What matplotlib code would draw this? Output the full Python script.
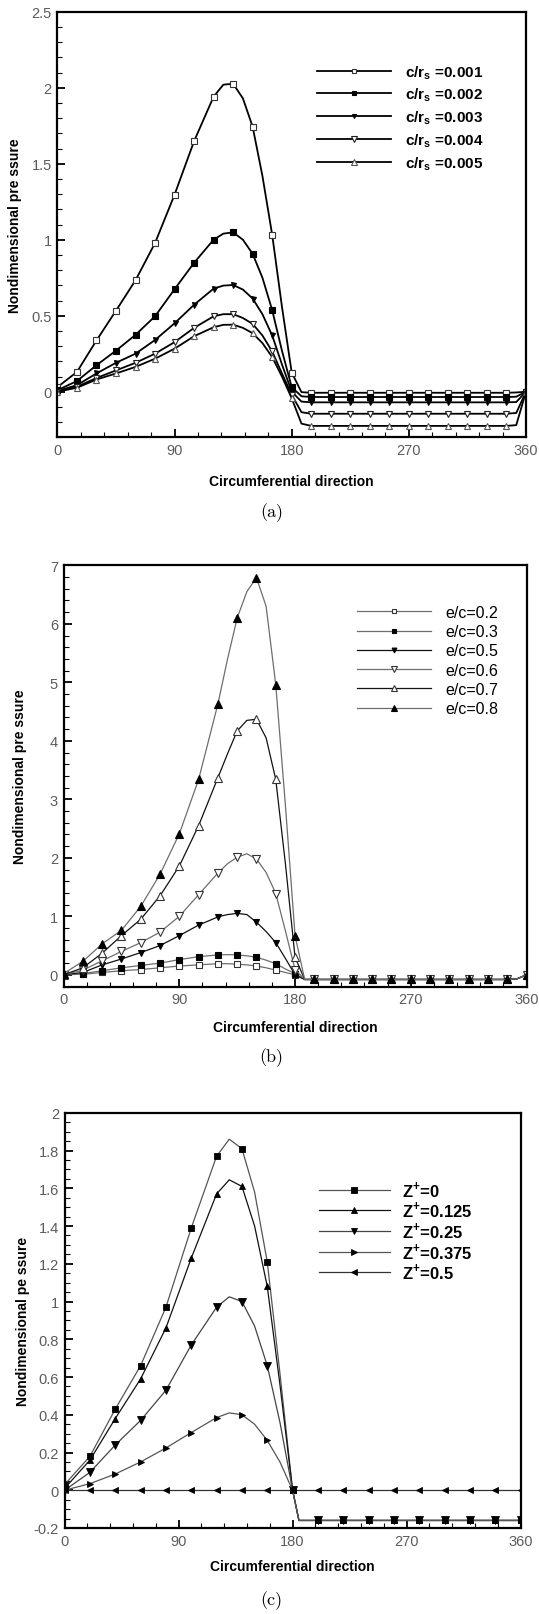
import matplotlib
matplotlib.use("Agg")
import matplotlib.pyplot as plt
from matplotlib.ticker import MultipleLocator, FuncFormatter

plt.rcParams['font.family'] = ['Liberation Sans', 'DejaVu Sans']
plt.rcParams['mathtext.fontset'] = 'custom'
plt.rcParams['mathtext.rm'] = 'Liberation Sans'
plt.rcParams['mathtext.bf'] = 'Liberation Sans:bold'

# ---- data ----
# panels (a) and (b): markers every 15 deg, a few extra points for the line
theta_ab = [0, 15, 30, 45, 60, 75, 90, 105, 120, 127.5, 135, 142.5, 150, 157.5,
            165, 172.5, 180, 187.5, 195, 210, 225, 240, 255, 270, 285, 300,
            315, 330, 345, 352.5, 360]
N_FLAT_AB = 11  # 195 .. 345

labels_a = [r'c/r$_\mathbf{s}$ =0.001', r'c/r$_\mathbf{s}$ =0.002',
            r'c/r$_\mathbf{s}$ =0.003', r'c/r$_\mathbf{s}$ =0.004',
            r'c/r$_\mathbf{s}$ =0.005']
p_c001 = [0.03, 0.13, 0.337, 0.533, 0.733, 0.978, 1.296, 1.648, 1.941, 2.02, 2.026,
          1.93, 1.743, 1.42, 1.033, 0.56, 0.126, -0.003] + [-0.007] * N_FLAT_AB + [-0.005, 0.0]
p_c002 = [0.01, 0.07, 0.174, 0.27, 0.374, 0.496, 0.674, 0.848, 1.0, 1.04, 1.048,
          1.0, 0.907, 0.75, 0.537, 0.27, 0.03, -0.03] + [-0.035] * N_FLAT_AB + [-0.033, 0.0]
p_c003 = [0.005, 0.043, 0.12, 0.19, 0.25, 0.34, 0.45, 0.572, 0.678, 0.698, 0.702,
          0.672, 0.613, 0.51, 0.37, 0.18, 0.0, -0.065] + [-0.07] * N_FLAT_AB + [-0.068, 0.0]
p_c004 = [0.0, 0.033, 0.09, 0.14, 0.19, 0.25, 0.326, 0.42, 0.496, 0.51, 0.51,
          0.485, 0.446, 0.37, 0.265, 0.12, -0.02, -0.135] + [-0.145] * N_FLAT_AB + [-0.14, 0.0]
p_c005 = [0.0, 0.026, 0.08, 0.12, 0.163, 0.217, 0.283, 0.365, 0.424, 0.44, 0.441,
          0.42, 0.385, 0.32, 0.228, 0.1, -0.043, -0.21] + [-0.225] * N_FLAT_AB + [-0.22, 0.0]

labels_b = ['e/c=0.2', 'e/c=0.3', 'e/c=0.5', 'e/c=0.6', 'e/c=0.7', 'e/c=0.8']
p_e02 = [0.0, 0.01, 0.04, 0.07, 0.09, 0.12, 0.15, 0.17, 0.19, 0.19, 0.18,
         0.17, 0.15, 0.12, 0.08, 0.04, 0.0, -0.08] + [-0.08] * N_FLAT_AB + [-0.07, 0.0]
p_e03 = [0.0, 0.02, 0.07, 0.12, 0.16, 0.2, 0.26, 0.31, 0.34, 0.345, 0.34,
         0.325, 0.3, 0.25, 0.19, 0.1, 0.02, -0.08] + [-0.08] * N_FLAT_AB + [-0.07, 0.0]
p_e05 = [0.0, 0.04, 0.17, 0.27, 0.38, 0.5, 0.67, 0.85, 0.99, 1.03, 1.05,
         1.03, 0.9, 0.74, 0.55, 0.28, 0.0, -0.08] + [-0.08] * N_FLAT_AB + [-0.07, 0.0]
p_e06 = [0.0, 0.08, 0.24, 0.4, 0.55, 0.73, 1.0, 1.37, 1.74, 1.9, 2.01,
         2.07, 1.98, 1.75, 1.39, 0.75, 0.09, -0.08] + [-0.08] * N_FLAT_AB + [-0.07, 0.0]
p_e07 = [0.0, 0.12, 0.37, 0.67, 0.95, 1.35, 1.86, 2.55, 3.37, 3.78, 4.17,
         4.35, 4.37, 4.05, 3.34, 1.9, 0.3, -0.08] + [-0.08] * N_FLAT_AB + [-0.07, 0.0]
p_e08 = [0.02, 0.23, 0.53, 0.76, 1.17, 1.72, 2.41, 3.34, 4.63, 5.4, 6.1,
         6.55, 6.79, 6.3, 4.96, 2.9, 0.67, -0.08] + [-0.08] * N_FLAT_AB + [-0.07, 0.0]

# panel (c): markers every 20 deg
theta_c = [0, 20, 40, 60, 80, 100, 120, 130, 140, 150, 160, 170, 180, 185,
           200, 220, 240, 260, 280, 300, 320, 340, 360]
N_FLAT_C = 9  # 200 .. 360
labels_c = [r'Z$^\mathbf{+}$=0', r'Z$^\mathbf{+}$=0.125', r'Z$^\mathbf{+}$=0.25',
            r'Z$^\mathbf{+}$=0.375', r'Z$^\mathbf{+}$=0.5']
p_z0 = [0.03, 0.18, 0.43, 0.66, 0.97, 1.39, 1.77, 1.86, 1.81, 1.58, 1.21, 0.62,
        0.0, -0.16] + [-0.16] * N_FLAT_C
p_z0125 = [0.01, 0.16, 0.38, 0.59, 0.86, 1.23, 1.57, 1.645, 1.61, 1.4, 1.08, 0.56,
           0.0, -0.16] + [-0.16] * N_FLAT_C
p_z025 = [0.0, 0.095, 0.24, 0.37, 0.53, 0.77, 0.97, 1.025, 1.0, 0.87, 0.66, 0.36,
          0.0, -0.16] + [-0.16] * N_FLAT_C
p_z0375 = [0.0, 0.035, 0.086, 0.15, 0.224, 0.306, 0.385, 0.41, 0.40, 0.35, 0.264, 0.15,
           0.0, -0.16] + [-0.16] * N_FLAT_C
p_z05 = [0.0] * len(theta_c)


def fmt(v, pos):
    v = round(v, 6) + 0.0
    return '%g' % v


def style_axes(ax, ylim, ymaj, ymin):
    ax.set_xlim(0, 360)
    ax.set_ylim(*ylim)
    ax.xaxis.set_major_locator(MultipleLocator(90))
    ax.xaxis.set_minor_locator(MultipleLocator(18))
    ax.yaxis.set_major_locator(MultipleLocator(ymaj))
    ax.yaxis.set_minor_locator(MultipleLocator(ymin))
    ax.yaxis.set_major_formatter(FuncFormatter(fmt))
    ax.tick_params(which='both', direction='in', top=False, right=False,
                   labelcolor='#5c5c5c', labelsize=10.5)
    ax.tick_params(axis='y', which='major', pad=4)
    ax.tick_params(axis='x', which='major', pad=4)
    ax.tick_params(which='major', length=6, width=1.3)
    ax.tick_params(which='minor', length=3.5, width=0.8)
    for sp in ax.spines.values():
        sp.set_linewidth(1.6)
    ax.set_xlabel('Circumferential direction', fontsize=10, fontweight='bold')


def marks(theta, step):
    return [t % step == 0 for t in theta]


W, H = 539, 1615
fig = plt.figure(figsize=(W / 100, H / 100), dpi=100)

# ---------------- (a) ----------------
ax = fig.add_axes([57.4 / W, 1 - 438.3 / H, 468.6 / W, 425.6 / H])
me = marks(theta_ab, 15)
series_a = [p_c001, p_c002, p_c003, p_c004, p_c005]
mk_a = [('s', 'white', '#333333', 4.3), ('s', 'black', 'black', 4.0),
        ('v', 'black', 'black', 3.6), ('v', 'white', '#222222', 4.6),
        ('^', 'white', '#555555', 4.6)]
for p, (m, fc, ec, ms), lab in zip(series_a, mk_a, labels_a):
    ax.plot(theta_ab, p, color='black', lw=1.3, marker=m, ms=ms, mfc=fc, mec=ec,
            mew=0.8, markevery=me, label=lab)
style_axes(ax, (-0.3, 2.5), 0.5, 0.1)
ax.set_ylabel('Nondimensional pre ssure', fontsize=10, fontweight='bold')
ax.yaxis.set_label_coords(-0.0745, 0.5)
ax.xaxis.set_label_coords(0.5, -0.086)
ax.legend(loc='center left', bbox_to_anchor=(0.553, 0.752), frameon=False,
          borderpad=0, borderaxespad=0, handlelength=4.9, handletextpad=0.87,
          labelspacing=0.33, markerscale=0.8,
          prop={'size': 11, 'weight': 'bold'})

# ---------------- (b) ----------------
ax = fig.add_axes([63.6 / W, 1 - 987.5 / H, 462.9 / W, 421.1 / H])
series_b = [p_e02, p_e03, p_e05, p_e06, p_e07, p_e08]
line_b = ['#6e6e6e', '#6e6e6e', '#111111', '#6e6e6e', '#111111', '#6e6e6e']
mk_b = [('s', 'white', '#333333', 4.6), ('s', 'black', 'black', 4.6),
        ('v', 'black', 'black', 4.6), ('v', 'white', '#333333', 5.2),
        ('^', 'white', '#333333', 6.2), ('^', 'black', 'black', 5.2)]
for p, lc, (m, fc, ec, ms), lab in zip(series_b, line_b, mk_b, labels_b):
    ax.plot(theta_ab, p, color=lc, lw=0.9, marker=m, ms=ms, mfc=fc, mec=ec,
            mew=0.8, markevery=me, label=lab)
style_axes(ax, (-0.2, 7), 1, 0.2)
ax.set_ylabel('Nondimensional pre ssure', fontsize=10, fontweight='bold')
ax.yaxis.set_label_coords(-0.078, 0.5)
ax.xaxis.set_label_coords(0.5, -0.080)
ax.legend(loc='center left', bbox_to_anchor=(0.634, 0.774), frameon=False,
          borderpad=0, borderaxespad=0, handlelength=4.6, handletextpad=0.9,
          labelspacing=0.27, markerscale=0.75, prop={'size': 11.5})

# ---------------- (c) ----------------
ax = fig.add_axes([64.6 / W, 1 - 1529 / H, 456 / W, 415.2 / H])
me_c = marks(theta_c, 20)
series_c = [p_z0, p_z0125, p_z025, p_z0375, p_z05]
line_c = ['#555555', '#111111', '#444444', '#555555', '#333333']
mk_c = [('s', 5.0), ('^', 4.6), ('v', 5.4), ('>', 5.0), ('<', 4.6)]
for p, lc, (m, ms), lab in zip(series_c, line_c, mk_c, labels_c):
    ax.plot(theta_c, p, color=lc, lw=0.9, marker=m, ms=ms, mfc='black', mec='black',
            mew=0.6, markevery=me_c, label=lab)
style_axes(ax, (-0.2, 2), 0.2, 0.05)
ax.set_ylabel('Nondimensional pe ssure', fontsize=10, fontweight='bold')
ax.yaxis.set_label_coords(-0.075, 0.5)
ax.xaxis.set_label_coords(0.5, -0.075)
ax.legend(loc='center left', bbox_to_anchor=(0.557, 0.718), frameon=False,
          borderpad=0, borderaxespad=0, handlelength=4.3, handletextpad=0.72,
          labelspacing=0.04, markerscale=0.85,
          prop={'size': 12, 'weight': 'bold'})

# captions
for y, cap in [(1 - 512.5 / H, '(a)'), (1 - 1058 / H, '(b)'), (1 - 1601 / H, '(c)')]:
    fig.text(0.504, y, cap, ha='center', va='center', fontsize=13, family='cmr10')

fig.savefig('out.png', dpi=100)
